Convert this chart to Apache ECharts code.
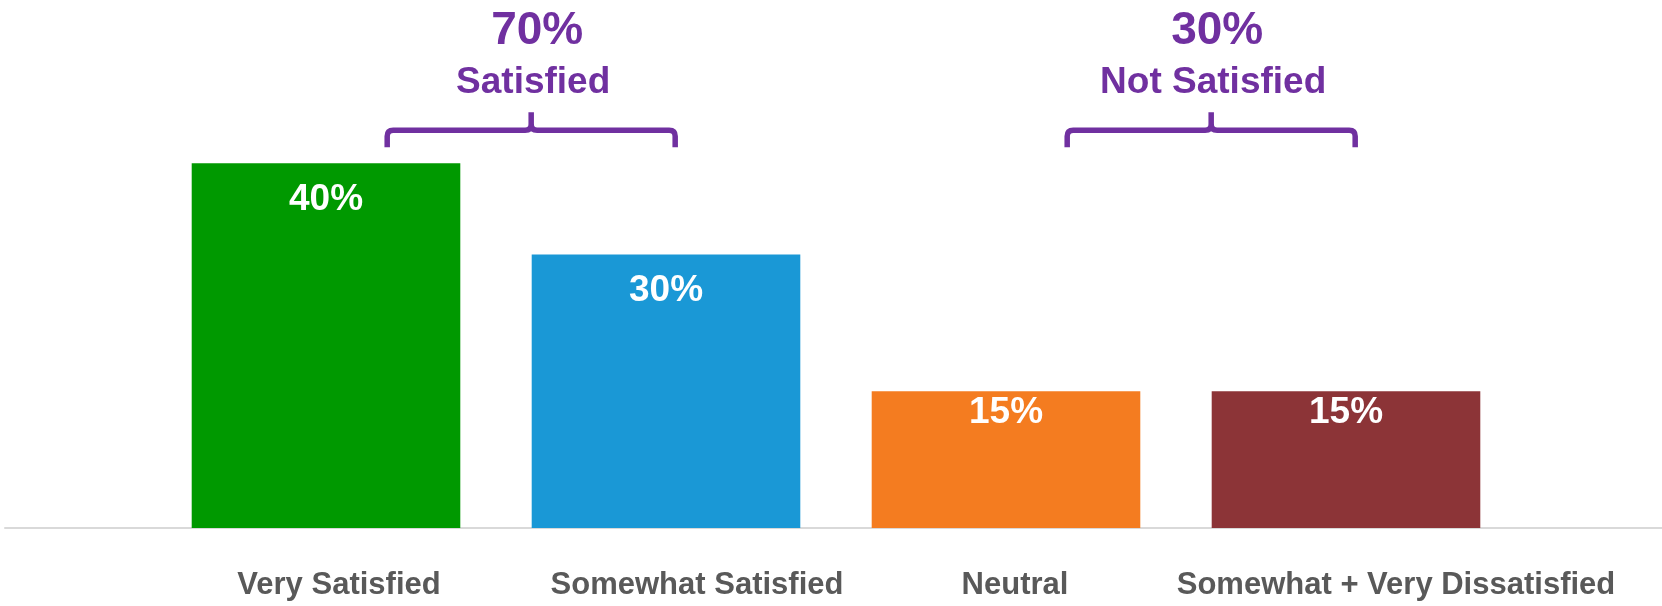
<!DOCTYPE html>
<html>
<head>
<meta charset="utf-8">
<script src="https://cdn.jsdelivr.net/npm/echarts@6/dist/echarts.min.js"></script>
<style>html,body{margin:0;padding:0;background:#fff;}#c{width:1662px;height:606px;}</style>
</head>
<body>
<div id="c"></div>
<script>
const categories = ['Very Satisfied', 'Somewhat Satisfied', 'Neutral', 'Somewhat + Very Dissatisfied'];
const values = [40, 30, 15, 15];
const barColors = ['#009900', '#1a98d6', '#f47c20', '#8c3437'];
const groupNames = ['Satisfied', 'Not Satisfied'];
const groupStart = [0, 2];
const groupEnd = [1, 3];

// style-only tweaks (not data)
const labelDistance = [18, 18, 3, 3];
const categoryLabelShift = [13, 31, 9, 50];

const purple = '#7030a0';
const font = "'Liberation Sans', Arial, sans-serif";

const groupData = groupNames.map((n, i) => {
  let s = 0;
  for (let k = groupStart[i]; k <= groupEnd[i]; k++) s += values[k];
  return [groupStart[i], groupEnd[i], s, n];
});

const chart = echarts.init(document.getElementById('c'), null, {renderer: 'canvas'});
chart.setOption({
  animation: false,
  backgroundColor: '#fff',
  grid: [
    {left: 156, right: 146, top: 72, bottom: 78},
    {left: 5, right: 0, top: 72, bottom: 78}
  ],
  xAxis: [
    {
      type: 'category', gridIndex: 0,
      data: categories.map((c, i) => ({value: c, textStyle: {padding: [0, 0, 0, 2 * categoryLabelShift[i]]}})),
      axisLine: {show: false}, axisTick: {show: false},
      axisLabel: {
        margin: 42, fontSize: 31, fontWeight: 'bold', color: '#595959', fontFamily: font,
        interval: 0
      }
    },
    {
      type: 'value', gridIndex: 1, min: 0, max: 1,
      axisLine: {show: true, lineStyle: {color: '#d9d9d9', width: 2}},
      axisTick: {show: false}, axisLabel: {show: false}, splitLine: {show: false}
    }
  ],
  yAxis: [
    {type: 'value', gridIndex: 0, min: 0, max: 50, show: false, splitLine: {show: false}},
    {type: 'value', gridIndex: 1, min: 0, max: 1, show: false, splitLine: {show: false}}
  ],
  series: [
    {
      type: 'bar', xAxisIndex: 0, yAxisIndex: 0,
      barCategoryGap: '21%',
      data: values.map((v, i) => ({
        value: v,
        itemStyle: {color: barColors[i]},
        label: {distance: labelDistance[i]}
      })),
      label: {
        show: true, position: 'insideTop',
        formatter: '{c}%', color: '#fff', fontSize: 37, fontWeight: 'bold', fontFamily: font
      }
    },
    {
      type: 'custom', xAxisIndex: 0, yAxisIndex: 0, clip: false, silent: true,
      encode: {x: 0, y: 2},
      data: groupData,
      renderItem: function (params, api) {
        const band = api.size([1, 0])[0];
        const p0 = api.coord([api.value(0), 0]);
        const p1 = api.coord([api.value(1), 0]);
        const x0 = p0[0] + 0.18 * band;
        const x1 = p1[0] + 0.027 * band;
        const xc = (x0 + x1) / 2;
        const y = api.coord([0, 43.6])[1];
        const r = 6, down = 17, up = 18;
        const d = 'M' + x0 + ' ' + (y + down) +
          ' L' + x0 + ' ' + (y + r) +
          ' Q' + x0 + ' ' + y + ' ' + (x0 + r) + ' ' + y +
          ' L' + (xc - r) + ' ' + y +
          ' Q' + xc + ' ' + y + ' ' + xc + ' ' + (y - r) +
          ' L' + xc + ' ' + (y - up) +
          ' M' + xc + ' ' + (y - r) +
          ' Q' + xc + ' ' + y + ' ' + (xc + r) + ' ' + y +
          ' L' + (x1 - r) + ' ' + y +
          ' Q' + x1 + ' ' + y + ' ' + x1 + ' ' + (y + r) +
          ' L' + x1 + ' ' + (y + down);
        return {
          type: 'group',
          children: [
            {type: 'path', shape: {pathData: d}, style: {fill: null, stroke: purple, lineWidth: 5.5, lineJoin: 'round', lineCap: 'butt'}},
            {type: 'text', style: {x: xc + 6, y: y - 99, text: api.value(2) + '%', fill: purple,
              font: 'bold 46px ' + font, textAlign: 'center', textVerticalAlign: 'middle'}},
            {type: 'text', style: {x: xc + 2, y: y - 48, text: groupNames[params.dataIndex], fill: purple,
              font: 'bold 37px ' + font, textAlign: 'center', textVerticalAlign: 'middle'}}
          ]
        };
      }
    }
  ]
});
</script>
</body>
</html>
